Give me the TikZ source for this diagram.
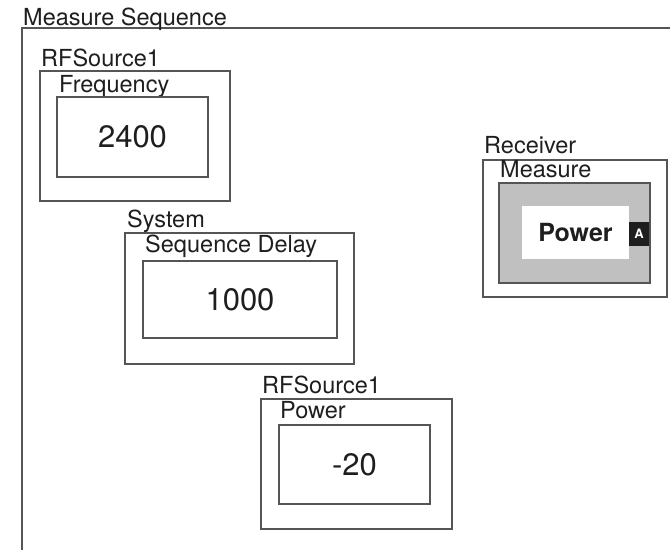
\documentclass[tikz,border=0pt]{standalone}
\usepackage{fontspec}
\setmainfont{TeX Gyre Heros}
\usetikzlibrary{positioning}
\definecolor{edge}{HTML}{555555}
\definecolor{shade}{HTML}{C0C0C0}
\definecolor{ink}{HTML}{1E1E1E}

\begin{document}
\begin{tikzpicture}[
    x=1pt,y=-1pt,
    grp/.style={draw=edge,line width=2.6pt,anchor=north west,inner sep=0pt,outer sep=0pt},
    val/.style={grp,font=\fontsize{31}{36}\selectfont,text=ink},
    lbl/.style={anchor=base west,inner sep=0pt,font=\fontsize{23.5}{28}\selectfont,text=ink},
    tagbox/.style={anchor=north west,inner sep=0pt,outer sep=0pt}
]
\useasboundingbox (0,0) rectangle (670,550);

% sequence frame
\draw[grp] (22,550) |- (670,28);
\node[lbl] (seqlbl) at (23,25) {Measure Sequence};

% RFSource1 / Frequency
\node[grp,minimum width=190pt,minimum height=130pt] (src1) at (40,71) {};
\node[lbl] (src1lbl) at (41,66) {RFSource1};
\node[lbl] (freqlbl) at (59,92) {Frequency};
\node[val,minimum width=151pt,minimum height=80pt] (freq) at (57,97) {2400};

% System / Sequence Delay
\node[grp,minimum width=229pt,minimum height=131pt] (sys) at (125,233) {};
\node[lbl] (syslbl) at (127,227) {System};
\node[lbl] (delaylbl) at (145,252) {Sequence Delay};
\node[val,minimum width=194pt,minimum height=77pt] (delay) at (143,261) {1000};

% RFSource1 / Power
\node[grp,minimum width=191pt,minimum height=130pt] (src2) at (261,399) {};
\node[lbl] (src2lbl) at (262,393) {RFSource1};
\node[lbl] (powlbl) at (280,418) {Power};
\node[val,minimum width=151pt,minimum height=79pt] (pow) at (279,425) {-20};

% Receiver / Measure
\node[grp,minimum width=184pt,minimum height=137pt] (rx) at (483,160) {};
\node[lbl] (rxlbl) at (484,153) {Receiver};
\node[lbl] (measlbl) at (500,177) {Measure};
\node[grp,fill=shade,minimum width=151pt,minimum height=100pt] (meas) at (499,183) {};
\node[tagbox,fill=white,minimum width=107pt,minimum height=53pt,text=ink,
      font=\bfseries\fontsize{25}{30}\selectfont] (measpow) at (522,206) {Power};
\node[tagbox,fill=ink,text=white,minimum width=20pt,minimum height=24pt,
      font=\bfseries\fontsize{13}{15}\selectfont] (tag) at (629,222) {A};

\end{tikzpicture}
\end{document}
